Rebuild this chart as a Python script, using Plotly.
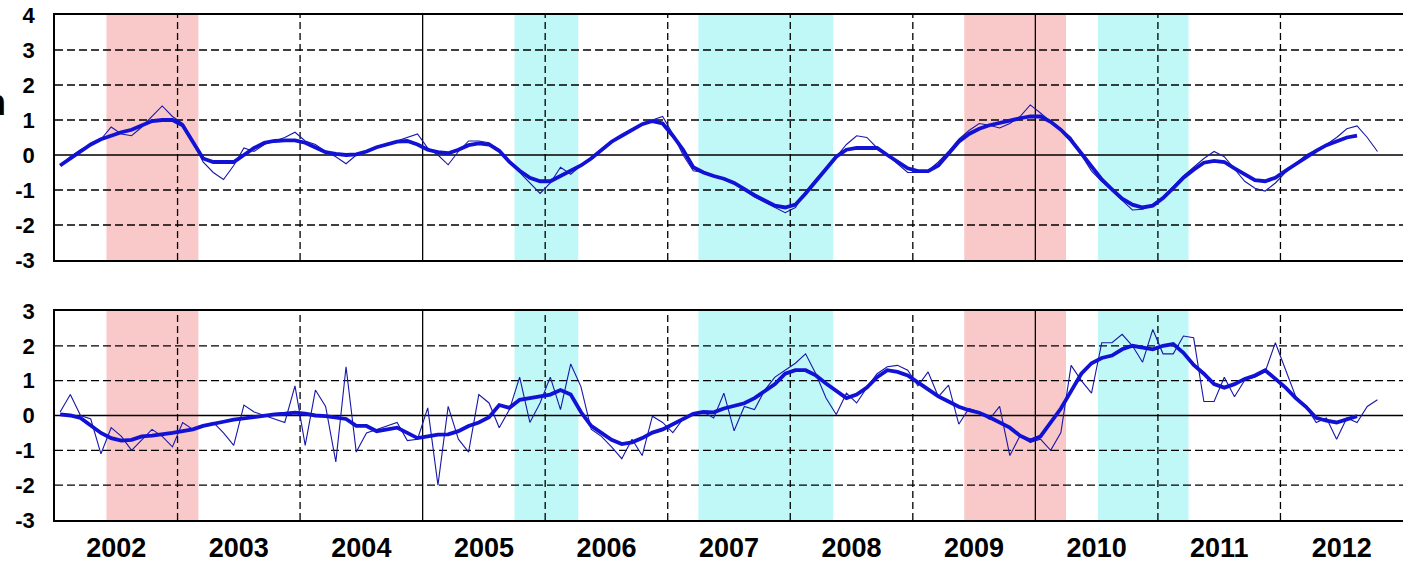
import plotly.graph_objects as go

# ---------------- data (monthly, starting Jan 2002) ----------------
start_year = 2002
years = list(range(2002, 2013))
year_labels = [str(y) for y in years]

top_monthly = [
    -0.3, -0.05, 0.15, 0.3, 0.45, 0.8, 0.6, 0.55, 0.8, 1.1, 1.4, 1.1,
    0.9, 0.4, -0.2, -0.5, -0.7, -0.3, 0.2, 0.1, 0.3, 0.4, 0.5, 0.65,
    0.4, 0.3, 0.1, -0.05, -0.25, 0.0, 0.1, 0.2, 0.3, 0.4, 0.5, 0.6,
    0.2, 0.0, -0.28, 0.1, 0.4, 0.4, 0.35, 0.15, -0.2, -0.5, -0.8, -1.1,
    -0.8, -0.35, -0.55, -0.3, -0.1, 0.15, 0.35, 0.55, 0.7, 0.9, 1.0, 1.1,
    0.6, 0.0, -0.45, -0.5, -0.6, -0.7, -0.8, -1.0, -1.2, -1.35, -1.5, -1.65,
    -1.5, -1.05, -0.7, -0.4, -0.05, 0.3, 0.55, 0.5, 0.2, 0.0, -0.25, -0.5,
    -0.5, -0.45, -0.2, 0.1, 0.45, 0.7, 0.9, 0.85, 0.77, 0.9, 1.1, 1.43,
    1.2, 0.95, 0.75, 0.5, 0.0, -0.46, -0.75, -1.0, -1.3, -1.57, -1.55, -1.4,
    -1.2, -0.9, -0.6, -0.35, -0.1, 0.1, -0.05, -0.4, -0.75, -0.95, -1.03, -0.8,
    -0.5, -0.25, 0.0, 0.15, 0.3, 0.5, 0.75, 0.83, 0.5, 0.1,
]
top_smooth = [
    -0.3, -0.1, 0.1, 0.3, 0.45, 0.55, 0.65, 0.72, 0.85, 0.97, 1.0, 1.0,
    0.85, 0.4, -0.1, -0.2, -0.2, -0.2, 0.0, 0.2, 0.35, 0.4, 0.42, 0.42,
    0.35, 0.2, 0.08, 0.03, 0.0, 0.02, 0.1, 0.22, 0.3, 0.38, 0.4, 0.3,
    0.15, 0.08, 0.05, 0.15, 0.28, 0.33, 0.3, 0.12, -0.2, -0.45, -0.65, -0.75,
    -0.75, -0.6, -0.45, -0.3, -0.1, 0.15, 0.38, 0.55, 0.72, 0.88, 0.97, 0.9,
    0.55, 0.15, -0.35, -0.5, -0.6, -0.68, -0.8, -0.98, -1.15, -1.3, -1.45, -1.5,
    -1.42, -1.1, -0.75, -0.4, -0.05, 0.15, 0.2, 0.2, 0.2, 0.0, -0.2, -0.38,
    -0.46, -0.46, -0.3, 0.05, 0.38, 0.6, 0.75, 0.85, 0.92, 0.97, 1.05, 1.1,
    1.1, 0.95, 0.72, 0.42, 0.05, -0.3, -0.7, -0.98, -1.25, -1.42, -1.5, -1.45,
    -1.23, -0.95, -0.65, -0.42, -0.22, -0.17, -0.2, -0.38, -0.55, -0.72, -0.75, -0.65,
    -0.45, -0.25, -0.05, 0.12, 0.28, 0.4, 0.5, 0.55,
]
bottom_monthly = [
    0.1, 0.6, 0.0, -0.1, -1.1, -0.35, -0.6, -1.0, -0.7, -0.4, -0.6, -0.9,
    -0.2, -0.4, -0.3, -0.2, -0.5, -0.86, 0.3, 0.1, 0.0, -0.1, -0.2, 0.85,
    -0.86, 0.73, 0.26, -1.33, 1.4, -1.05, -0.5, -0.4, -0.3, -0.2, -0.72, -0.68,
    0.22, -2.0, 0.26, -0.68, -1.05, 0.6, 0.36, -0.35, 0.17, 1.1, -0.2, 0.36,
    1.1, 0.17, 1.48, 0.83, -0.39, -0.6, -0.9, -1.24, -0.68, -1.15, -0.02, -0.2,
    -0.49, -0.1, 0.05, 0.1, -0.07, 0.64, -0.44, 0.26, 0.17, 0.73, 1.1, 1.3,
    1.5, 1.77, 1.2, 0.5, 0.03, 0.64, 0.36, 0.8, 1.2, 1.4, 1.44, 1.3,
    0.85, 1.25, 0.54, 0.87, -0.25, 0.2, 0.1, -0.11, 0.26, -1.15, -0.58, -0.77,
    -0.68, -1.0, -0.49, 1.44, 1.0, 0.64, 2.09, 2.09, 2.33, 2.0, 1.53, 2.47,
    1.77, 1.77, 2.28, 2.23, 0.4, 0.4, 1.1, 0.54, 1.01, 1.1, 1.25, 2.09,
    1.3, 0.54, 0.26, -0.2, -0.07, -0.68, -0.07, -0.2, 0.26, 0.45,
]
bottom_smooth = [
    0.03, 0.0, -0.07, -0.3, -0.5, -0.65, -0.72, -0.7, -0.6, -0.58, -0.55, -0.5,
    -0.45, -0.4, -0.3, -0.25, -0.18, -0.12, -0.08, -0.03, 0.0, 0.03, 0.05, 0.08,
    0.05, 0.0, -0.02, -0.05, -0.1, -0.3, -0.3, -0.45, -0.4, -0.35, -0.5, -0.65,
    -0.6, -0.55, -0.54, -0.45, -0.3, -0.2, -0.05, 0.3, 0.22, 0.45, 0.5, 0.54,
    0.6, 0.73, 0.6, 0.1, -0.3, -0.5, -0.7, -0.82, -0.77, -0.65, -0.49, -0.4,
    -0.25, -0.08, 0.05, 0.1, 0.09, 0.2, 0.28, 0.35, 0.5, 0.7, 0.9, 1.2,
    1.3, 1.3, 1.15, 0.92, 0.7, 0.5, 0.6, 0.8, 1.1, 1.3, 1.25, 1.15,
    0.95, 0.75, 0.55, 0.4, 0.25, 0.15, 0.08, -0.05, -0.2, -0.35, -0.58, -0.72,
    -0.6, -0.2, 0.2, 0.7, 1.2, 1.5, 1.65, 1.72, 1.9, 2.0, 1.95, 1.9,
    2.0, 2.05, 1.8, 1.45, 1.2, 0.9, 0.8, 0.9, 1.05, 1.15, 1.3, 1.05,
    0.8, 0.5, 0.25, -0.07, -0.15, -0.2, -0.1, -0.02,
]

# shaded episodes (decimal years)
warm_periods = [(2002.42, 2003.17), (2009.42, 2010.25)]
cold_periods = [(2005.75, 2006.27), (2007.25, 2008.35), (2010.51, 2011.25)]

top_yticks = [-3, -2, -1, 0, 1, 2, 3, 4]
bottom_yticks = [-3, -2, -1, 0, 1, 2, 3]
solid_years = [2005, 2010]

# ---------------- figure ----------------
def month_x(n):
    return [start_year + (i + 0.5) / 12 for i in range(n)]

THIN = "#1818A8"
THICK = "#1212D4"
PINK = "#F9C8C8"
CYAN = "#C0F7F7"
XMIN, XMAX = 2002, 2013
FONT = "Liberation Sans, Arial, sans-serif"

fig = go.Figure()
panels = [("x", "y", top_monthly, top_smooth), ("x2", "y2", bottom_monthly, bottom_smooth)]
for xa, ya, thin, thick in panels:
    fig.add_trace(go.Scatter(x=month_x(len(thin)), y=thin, mode="lines",
                             line=dict(color=THIN, width=1.1), xaxis=xa, yaxis=ya,
                             showlegend=False, hoverinfo="skip"))
    fig.add_trace(go.Scatter(x=month_x(len(thick)), y=thick, mode="lines",
                             line=dict(color=THICK, width=3.8), xaxis=xa, yaxis=ya,
                             showlegend=False, hoverinfo="skip"))

shapes = []
for xa, ya, yt in [("x", "y", top_yticks), ("x2", "y2", bottom_yticks)]:
    for a, b in warm_periods:
        shapes.append(dict(type="rect", xref=xa, yref=ya, x0=a, x1=b, y0=yt[0], y1=yt[-1],
                           fillcolor=PINK, line=dict(width=0), layer="below"))
    for a, b in cold_periods:
        shapes.append(dict(type="rect", xref=xa, yref=ya, x0=a, x1=b, y0=yt[0], y1=yt[-1],
                           fillcolor=CYAN, line=dict(width=0), layer="below"))
    # horizontal grid
    for v in yt[1:-1]:
        shapes.append(dict(type="line", xref=xa, yref=ya, x0=XMIN, x1=XMAX, y0=v, y1=v,
                           line=dict(color="black", width=1.3,
                                     dash="solid" if v == 0 else "8px,4px"),
                           layer="below"))
    # vertical grid at year boundaries
    for yr in years[1:]:
        shapes.append(dict(type="line", xref=xa, yref=ya, x0=yr, x1=yr, y0=yt[0], y1=yt[-1],
                           line=dict(color="black", width=1.3,
                                     dash="solid" if yr in solid_years else "7px,4px"),
                           layer="below"))

tickfont_y = dict(family=FONT, size=22, color="black", weight="bold")
tickfont_x = dict(family=FONT, size=27, color="black", weight="bold")

fig.update_layout(
    width=1403, height=563,
    margin=dict(l=55, r=0, t=15, b=43, autoexpand=False),
    paper_bgcolor="white", plot_bgcolor="white",
    shapes=shapes,
    xaxis=dict(domain=[0, 1], range=[XMIN, XMAX], anchor="y", showgrid=False, zeroline=False,
               showticklabels=False, showline=True, mirror=True, linecolor="black", linewidth=1.5,
               ticks=""),
    yaxis=dict(domain=[0.5149, 1], range=[top_yticks[0], top_yticks[-1]], anchor="x",
               tickvals=top_yticks, ticktext=[str(v) for v in top_yticks],
               showgrid=False, zeroline=False, showline=True, linecolor="black", linewidth=1.5,
               ticks="", ticklabelstandoff=14, tickfont=tickfont_y),
    xaxis2=dict(domain=[0, 1], range=[XMIN, XMAX], anchor="y2", showgrid=False, zeroline=False,
                tickvals=[y + 0.5 for y in years], ticktext=year_labels,
                showline=True, mirror=True, linecolor="black", linewidth=1.5,
                ticks="", ticklabelstandoff=3, tickfont=tickfont_x),
    yaxis2=dict(domain=[0, 0.4139], range=[bottom_yticks[0], bottom_yticks[-1]], anchor="x2",
                tickvals=bottom_yticks, ticktext=[str(v) for v in bottom_yticks],
                showgrid=False, zeroline=False, showline=True, linecolor="black", linewidth=1.5,
                ticks="", ticklabelstandoff=14, tickfont=tickfont_y),
    annotations=[dict(text="n", xref="paper", yref="paper", x=-0.0345, y=0.826,
                      xanchor="right", yanchor="middle", showarrow=False,
                      font=dict(family=FONT, size=36, color="black", weight="bold"))],
)

fig.write_html("out.html",
               config={"displayModeBar": False},
               post_script="document.body.style.margin='0';document.body.style.padding='0';"
                           "document.documentElement.style.overflow='hidden';")
